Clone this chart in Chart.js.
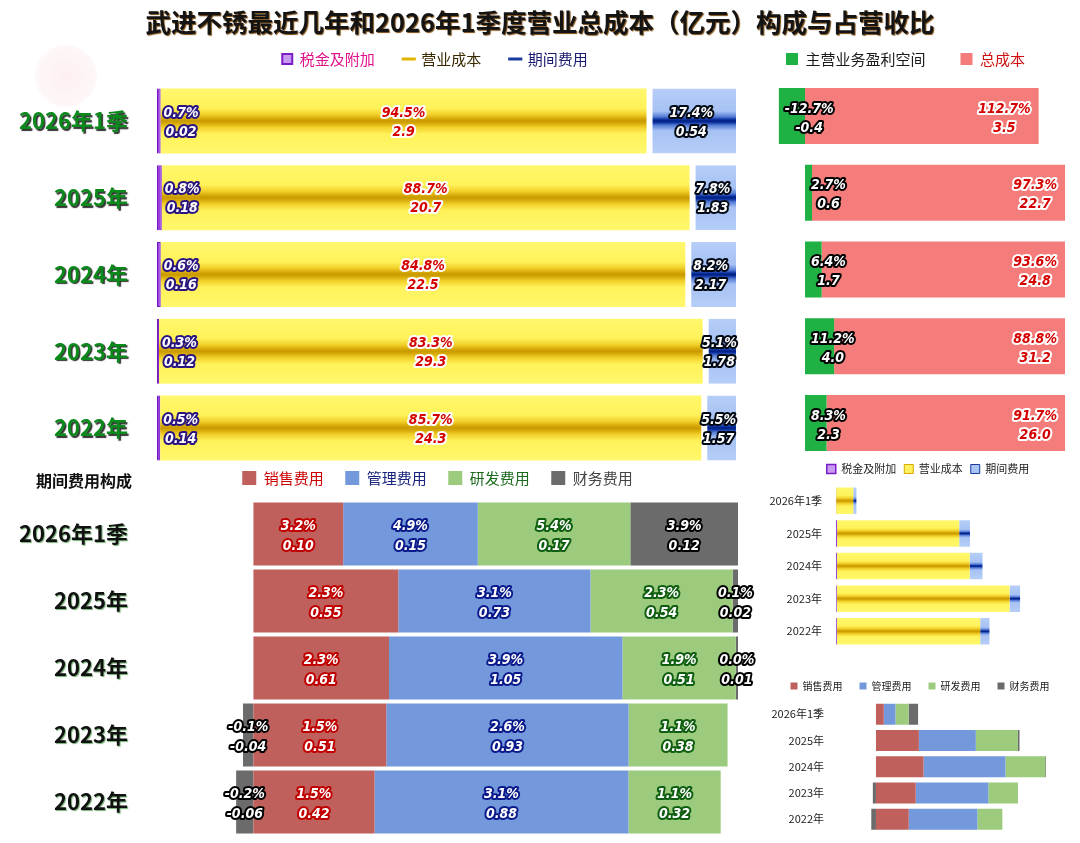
<!DOCTYPE html>
<html><head><meta charset="utf-8">
<script src="https://cdn.jsdelivr.net/npm/chart.js@4.4.1/dist/chart.umd.min.js"></script>
<style>
html,body{margin:0;padding:0;background:#fff;}
#wrap{position:relative;width:1080px;height:843px;overflow:hidden;background:#fff;font-family:'Noto Sans CJK SC','Noto Sans',sans-serif;}
canvas{position:absolute;}
#title{position:absolute;left:0;top:6px;width:1080px;text-align:center;font-weight:bold;font-size:25.5px;line-height:30px;color:#141414;text-shadow:1px 1px 1px #7a4a10;z-index:5;}
#sub{position:absolute;left:36px;top:469px;font-weight:bold;font-size:16px;line-height:22px;color:#111;z-index:5;}
#mark{position:absolute;left:35px;top:45px;width:62px;height:62px;border-radius:50%;background:radial-gradient(circle, rgba(250,210,210,0.35), rgba(250,225,225,0.12));}
</style></head>
<body><div id="wrap">
<div id="mark"></div>
<div id="title">武进不锈最近几年和2026年1季度营业总成本（亿元）构成与占营收比</div>
<div id="sub">期间费用构成</div>
<canvas id="cA" width="740" height="450" style="left:0;top:20px"></canvas>
<canvas id="cB" width="340" height="470" style="left:740px;top:0"></canvas>
<canvas id="cC" width="762" height="403" style="left:0;top:440px"></canvas>
<canvas id="cD" width="338" height="220" style="left:742px;top:440px"></canvas>
<canvas id="cE" width="338" height="183" style="left:742px;top:660px"></canvas>
</div>
<script>
// ---------- data ----------
const categories = ['2026年1季','2025年','2024年','2023年','2022年'];
// 营业总成本构成（占营收比 %）
const taxPct  = [0.7, 0.8, 0.6, 0.3, 0.5];
const costPct = [94.5, 88.7, 84.8, 83.3, 85.7];
const expPct  = [17.4, 7.8, 8.2, 5.1, 5.5];
// 亿元
const taxAmt  = [0.02, 0.18, 0.16, 0.12, 0.14];
const costAmt = [2.9, 20.7, 22.5, 29.3, 24.3];
const expAmt  = [0.54, 1.83, 2.17, 1.78, 1.57];
// 主营业务盈利空间 / 总成本
const profitPct = [-12.7, 2.7, 6.4, 11.2, 8.3];
const totalPct  = [112.7, 97.3, 93.6, 88.8, 91.7];
const profitAmt = [-0.4, 0.6, 1.7, 4.0, 2.3];
const totalAmt  = [3.5, 22.7, 24.8, 31.2, 26.0];
// 期间费用构成
const salesPct = [3.2, 2.3, 2.3, 1.5, 1.5];
const adminPct = [4.9, 3.1, 3.9, 2.6, 3.1];
const rdPct    = [5.4, 2.3, 1.9, 1.1, 1.1];
const finPct   = [3.9, 0.1, 0.0, -0.1, -0.2];
const salesAmt = [0.10, 0.55, 0.61, 0.51, 0.42];
const adminAmt = [0.15, 0.73, 1.05, 0.93, 0.88];
const rdAmt    = [0.17, 0.54, 0.51, 0.38, 0.32];
const finAmt   = [0.12, 0.02, 0.01, -0.04, -0.06];

// share of each row (sum of absolute values = 100)
function shares(list){
  return list.map(arr => arr.map((v,i) => {
    const s = list.reduce((a,b)=>a+Math.abs(b[i]),0);
    return v / s * 100;
  }));
}
const shA = shares([taxPct, costPct, expPct]);
const shB = shares([profitPct, totalPct]);
const shC = shares([salesAmt, adminAmt, rdAmt, finAmt]);

Chart.defaults.font.family = "'Noto Sans CJK SC','Noto Sans',sans-serif";
function hasFont(name){
  const c = document.createElement('canvas').getContext('2d');
  const s = 'mmmmmiiiii0123456789%';
  c.font = '20px monospace'; const a = c.measureText(s).width;
  c.font = "20px '" + name + "', monospace"; const b = c.measureText(s).width;
  return Math.abs(a - b) > 0.5;
}
const LABEL_FONT = hasFont('Liberation Sans Narrow') ? "italic bold 15px 'Liberation Sans Narrow'"
  : hasFont('DejaVu Sans Condensed') ? "italic bold 14px 'DejaVu Sans Condensed'"
  : "italic bold 13px 'DejaVu Sans', sans-serif";

const YELLOW = [[0,'#fff86c'],[0.3,'#fff25a'],[0.4,'#f2d02a'],[0.47,'#d4a606'],[0.5,'#c89a00'],[0.53,'#d4a606'],[0.6,'#f2d02a'],[0.7,'#fff25a'],[1,'#fff86c']];
const BLUE = [[0,'#b6cef8'],[0.35,'#a6c1f3'],[0.43,'#5a80d8'],[0.48,'#0a2e9c'],[0.5,'#002080'],[0.52,'#0a2e9c'],[0.57,'#5a80d8'],[0.65,'#a6c1f3'],[1,'#b6cef8']];
function band(c, stops, frac){
  const chart = c.chart, ys = chart.scales && chart.scales.y;
  if (!ys || c.dataIndex === undefined || !ys.height) return stops[1][1];
  const n = chart.data.labels.length;
  const h = ys.height / n * frac;
  const cy = ys.getPixelForValue(c.dataIndex);
  const g = chart.ctx.createLinearGradient(0, cy - h/2, 0, cy + h/2);
  stops.forEach(s => g.addColorStop(s[0], s[1]));
  return g;
}

// ---------- plugins ----------
const segLabels = {
  id: 'segLabels',
  afterDatasetsDraw(chart){
    const ctx = chart.ctx;
    chart.data.datasets.forEach((ds, di) => {
      const L = ds.seg; if (!L) return;
      const meta = chart.getDatasetMeta(di);
      meta.data.forEach((el, j) => {
        const p = el.getProps(['x','base','y'], true);
        const left = Math.min(p.x, p.base), right = Math.max(p.x, p.base);
        const t1 = L.pct[j].toFixed(1) + '%';
        const t2 = L.amt[j].toFixed(L.dec);
        ctx.save();
        ctx.font = LABEL_FONT;
        ctx.textBaseline = 'middle';
        ctx.textAlign = 'center';
        ctx.lineJoin = 'round';
        const w = ctx.measureText(t1).width;
        let cx;
        if (L.mode === 'after') cx = right + 3 + w/2;
        else if (L.mode === 'leftIn') cx = left + 6 + w/2;
        else if (L.mode === 'rightIn') cx = right - 8 - w/2;
        else cx = (left + right) / 2;
        [[t1, p.y + L.dy1], [t2, p.y + L.dy2]].forEach(([t, y]) => {
          ctx.strokeStyle = L.stroke; ctx.lineWidth = 4; ctx.strokeText(t, cx, y);
          ctx.fillStyle = L.fill; ctx.fillText(t, cx, y);
        });
        ctx.restore();
      });
    });
  }
};
// category labels: no clipping to the axis box, optional shadow
const tickStyle = {
  id: 'tickStyle',
  beforeDraw(chart, args, opts){
    const s = chart.scales.y;
    if (!s || s.__patched) return;
    s._computeLabelArea = () => undefined;
    if (opts && opts.color){
      const orig = s.drawLabels;
      s.drawLabels = function(area){
        const c = this.ctx; c.save();
        c.shadowColor = opts.color; c.shadowOffsetX = opts.dx; c.shadowOffsetY = opts.dy; c.shadowBlur = opts.blur;
        orig.call(this, area); c.restore();
      };
    }
    s.__patched = true;
  }
};
const zeroPad = s => { s.paddingTop = 0; s.paddingBottom = 0; s.paddingLeft = 0; s.paddingRight = 0; };
const hiddenX = (min, max, h) => ({stacked:true, min, max, position:'top', grid:{display:false, drawTicks:false}, border:{display:false}, ticks:{display:false}, afterFit: s => { s.height = h; zeroPad(s); }});
const catY = (w, pad, font, color) => ({stacked:true, grid:{display:false, drawTicks:false}, border:{display:false}, ticks:{color, font, padding:pad}, afterFit: s => { s.width = w; zeroPad(s); }});
const item = (text, fillStyle, strokeStyle, lineWidth, fontColor, pointStyle, i) => ({text, fillStyle, strokeStyle, lineWidth, fontColor, pointStyle, hidden:false, datasetIndex:i});
const base = {indexAxis:'y', responsive:false, animation:false, events:[]};

// ---------- A: 营业总成本构成 ----------
const fA = 0.846;
new Chart(document.getElementById('cA'), {
  type:'bar',
  data:{labels:categories, datasets:[
    {label:'税金及附加', data:shA[0], backgroundColor:'#9a3ee0', borderColor:'#7418c4', borderWidth:1, borderSkipped:false, barPercentage:fA, categoryPercentage:1,
      seg:{pct:taxPct, amt:taxAmt, dec:2, mode:'after', fill:'#fff', stroke:'#2a1580', dy1:-8, dy2:11}},
    {label:'营业成本', data:shA[1], backgroundColor:c => band(c, YELLOW, fA), borderWidth:0, barPercentage:fA, categoryPercentage:1,
      seg:{pct:costPct, amt:costAmt, dec:1, mode:'center', fill:'#d40000', stroke:'#fff', dy1:-8, dy2:11}},
    {label:'期间费用', data:shA[2], backgroundColor:c => band(c, BLUE, fA), borderColor:'#fff', borderWidth:{left:6,right:0,top:0,bottom:0}, borderSkipped:false, barPercentage:fA, categoryPercentage:1,
      seg:{pct:expPct, amt:expAmt, dec:2, mode:'center', fill:'#fff', stroke:'#000814', dy1:-8, dy2:11}}
  ]},
  options:Object.assign({}, base, {
    layout:{padding:{left:134, right:4, top:2.5, bottom:3.6}},
    scales:{x:hiddenX(0, 100, 6.1), y:catY(23, 29, {size:22, weight:'bold'}, '#0b8a1c')},
    plugins:{
      legend:{position:'top', align:'center', labels:{usePointStyle:true, boxWidth:10, boxHeight:10, padding:29, font:{size:15},
        generateLabels:() => [
          item('税金及附加', '#c79af0', '#7a1cc8', 2, '#e0128a', 'rect', 0),
          item('营业成本', '#e0b000', '#e2b400', 3, '#3a2800', 'line', 1),
          item('期间费用', '#1a3aa0', '#1a3aa0', 3, '#1a1a70', 'line', 2)]}},
      tooltip:{enabled:false},
      tickStyle:{color:'rgba(0,0,0,0.8)', dx:1.5, dy:1.5, blur:1}
    }
  }),
  plugins:[segLabels, tickStyle]
});

// ---------- B: 主营业务盈利空间 / 总成本 ----------
new Chart(document.getElementById('cB'), {
  type:'bar',
  data:{labels:categories, datasets:[
    {label:'主营业务盈利空间', data:shB[0], backgroundColor:'#1fb143', borderWidth:0, barPercentage:0.73, categoryPercentage:1,
      seg:{pct:profitPct, amt:profitAmt, dec:1, mode:'leftIn', fill:'#fff', stroke:'#000', dy1:-7, dy2:12}},
    {label:'总成本', data:shB[1], backgroundColor:'#f47c7a', borderWidth:0, barPercentage:0.73, categoryPercentage:1,
      seg:{pct:totalPct, amt:totalAmt, dec:1, mode:'rightIn', fill:'#d40000', stroke:'#fff', dy1:-7, dy2:12}}
  ]},
  options:Object.assign({}, base, {
    layout:{padding:{left:11, right:15, top:16.5, bottom:8.6}},
    scales:{x:hiddenX(-10.2, 100, 1.1),
      y:{stacked:true, grid:{display:false, drawTicks:false}, border:{display:false}, ticks:{display:false}, afterFit: s => { s.width = 27.5; zeroPad(s); }}},
    plugins:{
      legend:{position:'top', align:'start', labels:{boxWidth:12, boxHeight:12, padding:35, font:{size:15},
        generateLabels:() => [
          item('主营业务盈利空间', '#1fb143', '#1fb143', 0, '#1a1a1a', undefined, 0),
          item('总成本', '#f47c7a', '#f47c7a', 0, '#d01010', undefined, 1)]}},
      tooltip:{enabled:false}
    }
  }),
  plugins:[segLabels]
});

// ---------- C: 期间费用构成 ----------
const RED = '#c0605c', BLU = '#7399dc', GRN = '#9ccb7e', GRY = '#6b6b6b';
new Chart(document.getElementById('cC'), {
  type:'bar',
  data:{labels:categories, datasets:[
    {label:'销售费用', data:shC[0], backgroundColor:RED, borderWidth:0, barPercentage:0.94, categoryPercentage:1,
      seg:{pct:salesPct, amt:salesAmt, dec:2, mode:'center', fill:'#fff', stroke:'#c00000', dy1:-8, dy2:12}},
    {label:'管理费用', data:shC[1], backgroundColor:BLU, borderWidth:0, barPercentage:0.94, categoryPercentage:1,
      seg:{pct:adminPct, amt:adminAmt, dec:2, mode:'center', fill:'#fff', stroke:'#0a1a8a', dy1:-8, dy2:12}},
    {label:'研发费用', data:shC[2], backgroundColor:GRN, borderWidth:0, barPercentage:0.94, categoryPercentage:1,
      seg:{pct:rdPct, amt:rdAmt, dec:2, mode:'center', fill:'#fff', stroke:'#0f5e10', dy1:-8, dy2:12}},
    {label:'财务费用', data:shC[3], backgroundColor:GRY, borderWidth:0, barPercentage:0.94, categoryPercentage:1,
      seg:{pct:finPct, amt:finAmt, dec:2, mode:'center', fill:'#fff', stroke:'#000', dy1:-8, dy2:12}}
  ]},
  options:Object.assign({}, base, {
    layout:{padding:{left:137, right:24, top:9, bottom:7.5}},
    scales:{x:hiddenX(-3.6, 100, 5), y:catY(99, 108, {size:22, weight:'bold'}, '#111')},
    plugins:{
      legend:{position:'top', align:'center', labels:{boxWidth:14, boxHeight:14, padding:21.5, font:{size:15},
        generateLabels:() => [
          item('销售费用', RED, RED, 0, '#cc0000', undefined, 0),
          item('管理费用', BLU, BLU, 0, '#1a237e', undefined, 1),
          item('研发费用', GRN, GRN, 0, '#1e6a1e', undefined, 2),
          item('财务费用', GRY, GRY, 0, '#444', undefined, 3)]}},
      tooltip:{enabled:false},
      tickStyle:{color:'rgba(0,110,0,0.55)', dx:1, dy:1, blur:1}
    }
  }),
  plugins:[segLabels, tickStyle]
});

// ---------- D: 营业总成本（亿元） ----------
const fD = 0.81;
new Chart(document.getElementById('cD'), {
  type:'bar',
  data:{labels:categories, datasets:[
    {label:'税金及附加', data:taxAmt, backgroundColor:'#9a3ee0', borderWidth:0, barPercentage:fD, categoryPercentage:1},
    {label:'营业成本', data:costAmt, backgroundColor:c => band(c, YELLOW, fD), borderWidth:0, barPercentage:fD, categoryPercentage:1},
    {label:'期间费用', data:expAmt, backgroundColor:c => band(c, BLUE, fD), borderWidth:0, barPercentage:fD, categoryPercentage:1}
  ]},
  options:Object.assign({}, base, {
    layout:{padding:{left:42, right:8, top:15.5, bottom:12.4}},
    scales:{x:hiddenX(0, 40, 0), y:catY(52, 14, {size:11}, '#222')},
    plugins:{
      legend:{position:'top', align:'center', labels:{boxWidth:9, boxHeight:9, padding:8, font:{size:11},
        generateLabels:() => [
          item('税金及附加', '#c79af0', '#7a1cc8', 1.5, '#222', undefined, 0),
          item('营业成本', '#fff060', '#d8a800', 1, '#222', undefined, 1),
          item('期间费用', '#a8c4f4', '#1a3aa0', 1, '#222', undefined, 2)]}},
      tooltip:{enabled:false}
    }
  }),
  plugins:[tickStyle]
});

// ---------- E: 期间费用（亿元） ----------
const fE = 0.8;
new Chart(document.getElementById('cE'), {
  type:'bar',
  data:{labels:categories, datasets:[
    {label:'销售费用', data:salesAmt, backgroundColor:RED, borderWidth:0, barPercentage:fE, categoryPercentage:1},
    {label:'管理费用', data:adminAmt, backgroundColor:BLU, borderWidth:0, barPercentage:fE, categoryPercentage:1},
    {label:'研发费用', data:rdAmt, backgroundColor:GRN, borderWidth:0, barPercentage:fE, categoryPercentage:1},
    {label:'财务费用', data:finAmt, backgroundColor:GRY, borderWidth:0, barPercentage:fE, categoryPercentage:1}
  ]},
  options:Object.assign({}, base, {
    layout:{padding:{left:27, right:9, top:4, bottom:10.7}},
    scales:{x:hiddenX(-0.07, 2.5, 0), y:catY(101.5, 46.5, {size:11}, '#222')},
    plugins:{
      legend:{position:'top', align:'center', labels:{boxWidth:7, boxHeight:7, padding:17, font:{size:10},
        generateLabels:() => [
          item('销售费用', RED, RED, 0, '#222', undefined, 0),
          item('管理费用', BLU, BLU, 0, '#222', undefined, 1),
          item('研发费用', GRN, GRN, 0, '#222', undefined, 2),
          item('财务费用', GRY, GRY, 0, '#222', undefined, 3)]}},
      tooltip:{enabled:false}
    }
  }),
  plugins:[tickStyle]
});
</script>
</body></html>
